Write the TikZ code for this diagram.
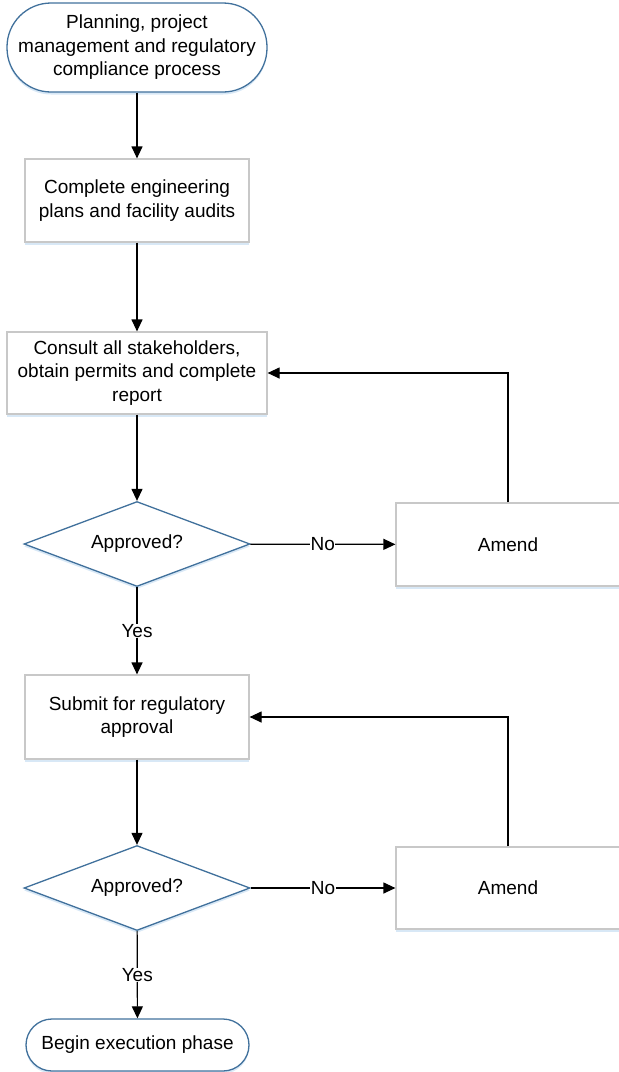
\documentclass[tikz,border=0pt]{standalone}
\usepackage{fontspec}
\setmainfont{Liberation Sans}
\usepackage{xcolor}
\usetikzlibrary{shapes, positioning, arrows.meta, shadows}
\definecolor{termblue}{RGB}{65,113,156}
\definecolor{boxgray}{RGB}{200,200,200}
\definecolor{glow}{RGB}{200,222,242}

\begin{document}
\begin{tikzpicture}[x=1pt, y=-1pt,
	font=\fontsize{19}{23.5}\selectfont,
	glowy/.style={drop shadow={fill=glow, opacity=0.7, shadow xshift=0pt, shadow yshift=-2.5pt}},
	terminal/.style={rectangle, rounded corners=#1, draw=termblue, line width=1.3pt, fill=white, align=center, inner sep=0pt, glowy},
	process/.style={rectangle, draw=boxgray, line width=1.2pt, fill=white, align=center, inner sep=0pt, glowy},
	decision/.style={diamond, draw=termblue, line width=1.3pt, fill=white, aspect=2.6, inner sep=0pt, minimum width=226pt, minimum height=85pt, glowy},
	flow/.style={line width=1.2pt, -{Triangle[length=12pt, width=11pt]}},
	edgetext/.style={fill=white, inner sep=0.5pt}]
	
	\useasboundingbox (0,0) rectangle (619,1072);
	
	% inicio
	\node[terminal=44pt, minimum width=260pt, minimum height=89pt] (plan) at (137,47.5) {Planning, project\\management and regulatory\\compliance process};
	
	% etapas
	\node[process, minimum width=224pt, minimum height=83pt] (audit) at (137,200.5) {Complete engineering\\plans and facility audits};
	\node[process, minimum width=260pt, minimum height=82pt] (consult) at (137,373) {Consult all stakeholders,\\obtain permits and complete\\report};
	
	% primeira aprovacao
	\node[decision] (approved1) at (137,544) {Approved?};
	\node[process, minimum width=224pt, minimum height=83pt] (amend1) at (508,544.5) {Amend};
	
	% submissao
	\node[process, minimum width=224pt, minimum height=84pt] (submit) at (137,717) {Submit for regulatory\\approval};
	\node[decision] (approved2) at (137,888) {Approved?};
	\node[process, minimum width=224pt, minimum height=82pt] (amend2) at (508,888) {Amend};
	
	% fim
	\node[terminal=26pt, minimum width=223pt, minimum height=52pt] (execution) at (137.5,1045) {Begin execution phase};
	
	% setas
	\draw[flow] (plan) -- (audit);
	\draw[flow] (audit) -- (consult);
	\draw[flow] (consult) -- (approved1);
	\draw[flow] (approved1) -- node[edgetext]{No} (amend1);
	\draw[flow] (amend1.north) |- (consult.east);
	\draw[flow] (approved1) -- node[edgetext]{Yes} (submit);
	\draw[flow] (submit) -- (approved2);
	\draw[flow] (approved2) -- node[edgetext]{No} (amend2);
	\draw[flow] (amend2.north) |- (submit.east);
	\draw[flow] (approved2) -- node[edgetext]{Yes} (execution);
\end{tikzpicture}
\end{document}
